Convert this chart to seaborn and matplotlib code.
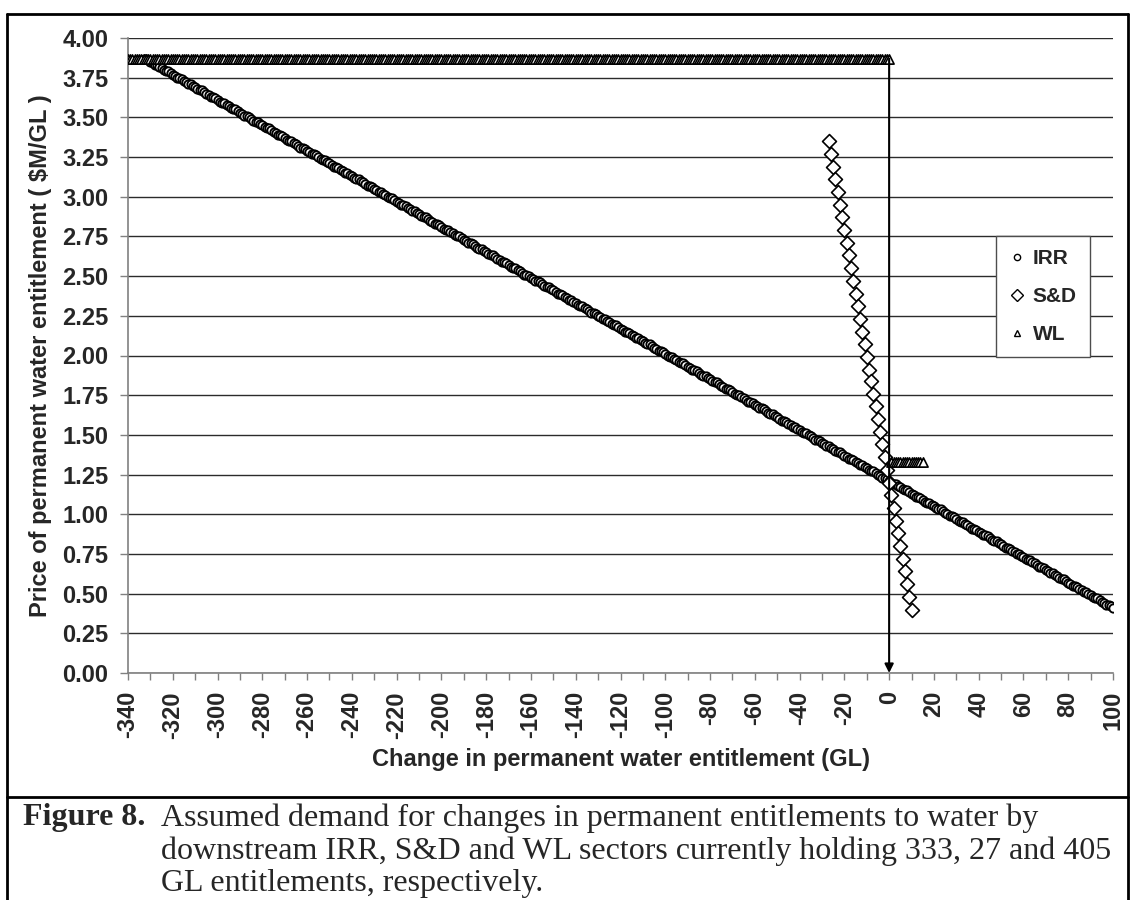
import matplotlib
matplotlib.use("Agg")
import matplotlib.pyplot as plt
import seaborn as sns
import pandas as pd
from matplotlib.lines import Line2D

# ---------------- data ----------------
series_names = ["IRR", "S&D", "WL"]

# IRR demand: change in entitlement (GL) at each 1 GL step, price ($M/GL)
irr_x = list(range(-333, 101))
irr_price = [
    3.87, 3.87, 3.86, 3.85, 3.84, 3.83, 3.83, 3.82, 3.81, 3.80,
    3.79, 3.79, 3.78, 3.77, 3.76, 3.75, 3.75, 3.74, 3.73, 3.72,
    3.71, 3.71, 3.70, 3.69, 3.68, 3.67, 3.67, 3.66, 3.65, 3.64,
    3.63, 3.63, 3.62, 3.61, 3.60, 3.59, 3.59, 3.58, 3.57, 3.56,
    3.55, 3.55, 3.54, 3.53, 3.52, 3.51, 3.51, 3.50, 3.49, 3.48,
    3.47, 3.47, 3.46, 3.45, 3.44, 3.43, 3.43, 3.42, 3.41, 3.40,
    3.39, 3.39, 3.38, 3.37, 3.36, 3.35, 3.35, 3.34, 3.33, 3.32,
    3.31, 3.31, 3.30, 3.29, 3.28, 3.27, 3.27, 3.26, 3.25, 3.24,
    3.23, 3.23, 3.22, 3.21, 3.20, 3.19, 3.19, 3.18, 3.17, 3.16,
    3.15, 3.15, 3.14, 3.13, 3.12, 3.11, 3.11, 3.10, 3.09, 3.08,
    3.07, 3.07, 3.06, 3.05, 3.04, 3.03, 3.03, 3.02, 3.01, 3.00,
    2.99, 2.99, 2.98, 2.97, 2.96, 2.95, 2.95, 2.94, 2.93, 2.92,
    2.91, 2.91, 2.90, 2.89, 2.88, 2.87, 2.87, 2.86, 2.85, 2.84,
    2.83, 2.83, 2.82, 2.81, 2.80, 2.79, 2.79, 2.78, 2.77, 2.76,
    2.75, 2.75, 2.74, 2.73, 2.72, 2.71, 2.71, 2.70, 2.69, 2.68,
    2.67, 2.67, 2.66, 2.65, 2.64, 2.63, 2.63, 2.62, 2.61, 2.60,
    2.59, 2.59, 2.58, 2.57, 2.56, 2.55, 2.55, 2.54, 2.53, 2.52,
    2.51, 2.51, 2.50, 2.49, 2.48, 2.47, 2.47, 2.46, 2.45, 2.44,
    2.43, 2.43, 2.42, 2.41, 2.40, 2.39, 2.39, 2.38, 2.37, 2.36,
    2.35, 2.35, 2.34, 2.33, 2.32, 2.31, 2.31, 2.30, 2.29, 2.28,
    2.27, 2.27, 2.26, 2.25, 2.24, 2.23, 2.23, 2.22, 2.21, 2.20,
    2.19, 2.19, 2.18, 2.17, 2.16, 2.15, 2.15, 2.14, 2.13, 2.12,
    2.11, 2.11, 2.10, 2.09, 2.08, 2.07, 2.07, 2.06, 2.05, 2.04,
    2.03, 2.03, 2.02, 2.01, 2.00, 1.99, 1.99, 1.98, 1.97, 1.96,
    1.95, 1.95, 1.94, 1.93, 1.92, 1.91, 1.91, 1.90, 1.89, 1.88,
    1.87, 1.87, 1.86, 1.85, 1.84, 1.83, 1.83, 1.82, 1.81, 1.80,
    1.79, 1.79, 1.78, 1.77, 1.76, 1.75, 1.75, 1.74, 1.73, 1.72,
    1.71, 1.71, 1.70, 1.69, 1.68, 1.67, 1.67, 1.66, 1.65, 1.64,
    1.63, 1.63, 1.62, 1.61, 1.60, 1.59, 1.59, 1.58, 1.57, 1.56,
    1.55, 1.55, 1.54, 1.53, 1.52, 1.51, 1.51, 1.50, 1.49, 1.48,
    1.47, 1.47, 1.46, 1.45, 1.44, 1.43, 1.43, 1.42, 1.41, 1.40,
    1.39, 1.39, 1.38, 1.37, 1.36, 1.35, 1.35, 1.34, 1.33, 1.32,
    1.31, 1.31, 1.30, 1.29, 1.28, 1.27, 1.27, 1.26, 1.25, 1.24,
    1.23, 1.23, 1.22, 1.21, 1.20, 1.19, 1.19, 1.18, 1.17, 1.16,
    1.15, 1.15, 1.14, 1.13, 1.12, 1.11, 1.11, 1.10, 1.09, 1.08,
    1.07, 1.07, 1.06, 1.05, 1.04, 1.03, 1.03, 1.02, 1.01, 1.00,
    0.99, 0.99, 0.98, 0.97, 0.96, 0.95, 0.95, 0.94, 0.93, 0.92,
    0.91, 0.91, 0.90, 0.89, 0.88, 0.87, 0.87, 0.86, 0.85, 0.84,
    0.83, 0.83, 0.82, 0.81, 0.80, 0.79, 0.79, 0.78, 0.77, 0.76,
    0.75, 0.75, 0.74, 0.73, 0.72, 0.71, 0.71, 0.70, 0.69, 0.68,
    0.67, 0.67, 0.66, 0.65, 0.64, 0.63, 0.63, 0.62, 0.61, 0.60,
    0.59, 0.59, 0.58, 0.57, 0.56, 0.55, 0.55, 0.54, 0.53, 0.52,
    0.51, 0.51, 0.50, 0.49, 0.48, 0.47, 0.47, 0.46, 0.45, 0.44,
    0.43, 0.43, 0.42, 0.41,
]

# S&D demand
sd_x = list(range(-27, 11))
sd_price = [
    3.35, 3.27, 3.19, 3.11, 3.03, 2.95, 2.87, 2.79, 2.71, 2.63,
    2.55, 2.47, 2.39, 2.31, 2.23, 2.15, 2.07, 1.99, 1.91, 1.84,
    1.76, 1.68, 1.60, 1.52, 1.44, 1.36, 1.28, 1.20, 1.12, 1.04,
    0.96, 0.88, 0.80, 0.72, 0.64, 0.56, 0.48, 0.40,
]

# WL demand: flat price for decreases, lower flat price for small increases
wl_x_dec = list(range(-340, 1))
wl_price_dec_level = 3.87
wl_x_inc = list(range(1, 16))
wl_price_inc_level = 1.33

x_ticks = list(range(-340, 101, 20))
x_tick_labels = [str(v) for v in x_ticks]
x_minor_ticks = list(range(-340, 101, 10))
y_ticks = [0.00, 0.25, 0.50, 0.75, 1.00, 1.25, 1.50, 1.75, 2.00,
           2.25, 2.50, 2.75, 3.00, 3.25, 3.50, 3.75, 4.00]
y_tick_labels = ["%.2f" % v for v in y_ticks]

x_label = "Change in permanent water entitlement (GL)"
y_label = "Price of permanent water entitlement ( $M/GL )"
caption_head = "Figure 8."
caption_lines = [
    "Assumed demand for changes in permanent entitlements to water by",
    "downstream IRR, S&D and WL sectors currently holding 333, 27 and 405",
    "GL entitlements, respectively.",
]

# ---------------- tables ----------------
irr_df = pd.DataFrame({"change": irr_x, "price": irr_price})
sd_df = pd.DataFrame({"change": sd_x, "price": sd_price})
wl_df = pd.DataFrame({
    "change": wl_x_dec + wl_x_inc,
    "price": [wl_price_dec_level] * len(wl_x_dec) + [wl_price_inc_level] * len(wl_x_inc),
})

# ---------------- style ----------------
sns.set_style("white")
plt.rcParams["font.family"] = ["Liberation Sans", "DejaVu Sans"]
plt.rcParams["axes.unicode_minus"] = False

W, H = 1132, 900
fig = plt.figure(figsize=(W / 100, H / 100), dpi=100)
fig.patch.set_facecolor("white")

ax_l, ax_r, ax_t, ax_b = 128, 1113, 38, 673
ax = fig.add_axes([ax_l / W, 1 - ax_b / H, (ax_r - ax_l) / W, (ax_b - ax_t) / H])
ax.set_facecolor("white")

# ---------------- marks ----------------
sns.scatterplot(data=irr_df, x="change", y="price", marker="o", s=36,
                color="white", edgecolor="black", linewidth=1.35,
                ax=ax, legend=False, zorder=3, clip_on=True)
sns.scatterplot(data=sd_df, x="change", y="price", marker="D", s=50,
                color="white", edgecolor="black", linewidth=1.2,
                ax=ax, legend=False, zorder=4, clip_on=True)
sns.scatterplot(data=wl_df, x="change", y="price", marker="^", s=44,
                color="white", edgecolor="black", linewidth=1.2,
                ax=ax, legend=False, zorder=5, clip_on=True)

# vertical arrow from the WL kink down to the axis
ax.annotate("", xy=(wl_x_dec[-1], 0), xytext=(wl_x_dec[-1], wl_price_dec_level),
            arrowprops=dict(arrowstyle="-|>", color="black", lw=1.5,
                            mutation_scale=13, shrinkA=0, shrinkB=0),
            zorder=6, annotation_clip=False)

# ---------------- axes ----------------
tick_fs = 17
ax.set_xlim(x_ticks[0], x_ticks[-1])
ax.set_ylim(y_ticks[0], y_ticks[-1])
ax.set_xticks(x_ticks)
ax.set_xticks(x_minor_ticks, minor=True)
ax.set_xticklabels(x_tick_labels, rotation=90, fontsize=tick_fs, fontweight="bold")
ax.set_yticks(y_ticks)
ax.set_yticklabels(y_tick_labels, fontsize=tick_fs, fontweight="bold")
ax.tick_params(axis="x", which="both", bottom=True, direction="out",
               length=5, width=1.0, color="#808080", pad=8)
ax.tick_params(axis="y", which="both", left=True, direction="out",
               length=6, width=1.0, color="#808080", pad=8)

ax.set_axisbelow(True)
ax.yaxis.grid(True, color="#2b2b2b", linewidth=1.0)
ax.xaxis.grid(False)
for side in ["top", "right"]:
    ax.spines[side].set_visible(False)
for side in ["left", "bottom"]:
    ax.spines[side].set_color("#808080")
    ax.spines[side].set_linewidth(1.2)

ax.set_xlabel(x_label, fontsize=17, fontweight="bold")
ax.xaxis.set_label_coords(0.5, -0.118)
ax.set_ylabel(y_label, fontsize=17, fontweight="bold")
ax.yaxis.set_label_coords(-0.077, 0.5)

# ---------------- legend ----------------
handles = [
    Line2D([], [], ls="none", marker="o", ms=4.5, mfc="white", mec="black", mew=1.0, label=series_names[0]),
    Line2D([], [], ls="none", marker="D", ms=6.0, mfc="white", mec="black", mew=1.0, label=series_names[1]),
    Line2D([], [], ls="none", marker="^", ms=4.5, mfc="white", mec="black", mew=1.0, label=series_names[2]),
]
leg = ax.legend(handles=handles, loc="upper left",
                bbox_to_anchor=((996 - ax_l) / (ax_r - ax_l), (ax_b - 236) / (ax_b - ax_t)),
                borderaxespad=0, frameon=True, fancybox=False, framealpha=1,
                edgecolor="#4d4d4d", prop={"weight": "bold", "size": 15},
                handlelength=0.75, handletextpad=0.4, labelspacing=0.92,
                borderpad=0.62)
leg.get_frame().set_linewidth(1.0)
leg.set_zorder(10)

# ---------------- outer frame ----------------
def fig_line(x0, y0, x1, y1, lw=2.0):
    fig.add_artist(Line2D([x0 / W, x1 / W], [1 - y0 / H, 1 - y1 / H],
                          transform=fig.transFigure, color="black", lw=lw))

fig_line(7, 13.5, 1128, 13.5)
fig_line(7, 13.5, 7, 900)
fig_line(1128, 13.5, 1128, 900)
fig_line(7, 797, 1128, 797)

# ---------------- caption ----------------
serif = ["Liberation Serif", "DejaVu Serif"]
cap_fs = 23
fig.text(23 / W, 1 - 818 / H, caption_head, family=serif, fontsize=cap_fs,
         fontweight="bold", va="center", ha="left")
for i, line in enumerate(caption_lines):
    fig.text(161 / W, 1 - (818 + 33 * i) / H, line, family=serif, fontsize=cap_fs,
             va="center", ha="left")

fig.savefig("out.png", dpi=100)
